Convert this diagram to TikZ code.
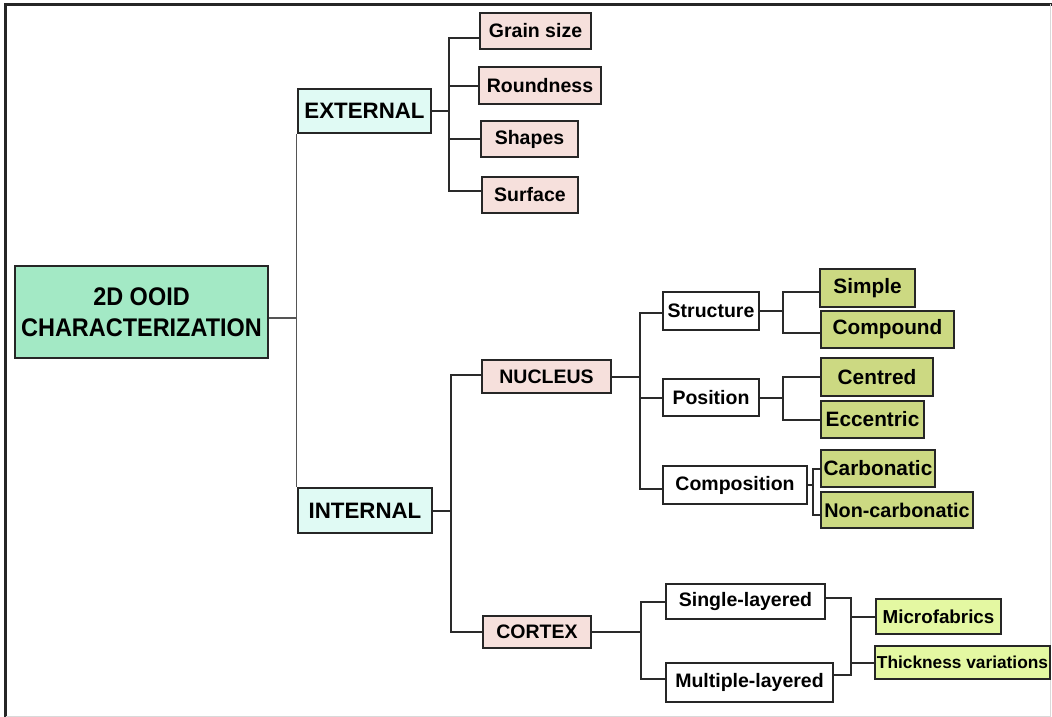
\documentclass[tikz,border=0pt]{standalone}
\usepackage{fontspec}
\setmainfont{Liberation Sans}
\newfontfamily\rootfont[FakeStretch=0.92]{Liberation Sans}
\definecolor{rootfill}{HTML}{A3E9C5}
\definecolor{cyanfill}{HTML}{E0FAF4}
\definecolor{pinkfill}{HTML}{F6E0DC}
\definecolor{olivefill}{HTML}{CCD982}
\definecolor{limefill}{HTML}{E4F8A2}
\definecolor{linegray}{HTML}{2A2A2A}
\tikzset{
  box/.style={draw=black!85, line width=2.2pt, inner sep=0pt, anchor=center, font=\bfseries\fontsize{19.5}{22}\selectfont},
  rootbox/.style={box, fill=rootfill, align=center, font=\rootfont\bfseries\fontsize{25.5}{31}\selectfont},
  topbox/.style={box, fill=cyanfill, font=\bfseries\fontsize{22.3}{25}\selectfont},
  pinkbox/.style={box, fill=pinkfill},
  whitebox/.style={box, fill=white},
  olivebox/.style={box, fill=olivefill, font=\bfseries\fontsize{20.8}{24}\selectfont},
  limebox/.style={box, fill=limefill},
  conn/.style={draw=linegray, line width=2pt},
  thinconn/.style={draw=linegray!80, line width=1.1pt}
}
\begin{document}
\begin{tikzpicture}[x=1pt, y=-1pt]
\useasboundingbox (0,0) rectangle (1052,717);
% frame
\draw[line width=2.6pt, black!85] (5.5,717) -- (5.5,4.5) -- (1052,4.5);
\draw[line width=0.8pt, black!15] (1050.5,4.5) -- (1050.5,716) -- (5.5,716);

% connectors first (under boxes)
\coordinate (bE) at (449,111);
\coordinate (bI) at (451,510.5);
\coordinate (bN) at (640,376.5);
\coordinate (bS) at (783,311);
\coordinate (bP) at (783,397.5);
\coordinate (bC) at (813,485);
\coordinate (bX) at (641,632);
\coordinate (bL) at (851,640);

% nodes
\node[rootbox, minimum width=253pt, minimum height=92pt] (root) at (141.5,312) {2D OOID\\CHARACTERIZATION};
\node[topbox, minimum width=133pt, minimum height=44pt] (ext) at (364.5,111) {EXTERNAL};
\node[topbox, minimum width=134pt, minimum height=45pt] (int) at (365,510.5) {INTERNAL};

\node[pinkbox, minimum width=111pt, minimum height=36pt] (grain) at (535.5,31) {Grain size};
\node[pinkbox, minimum width=122pt, minimum height=37pt] (round) at (540,85.5) {Roundness};
\node[pinkbox, minimum width=97pt, minimum height=36pt] (shapes) at (529.5,139) {Shapes};
\node[pinkbox, minimum width=96pt, minimum height=36pt] (surface) at (530,195) {Surface};

\node[pinkbox, minimum width=129pt, minimum height=33pt] (nucleus) at (546.5,376.5) {NUCLEUS};
\node[pinkbox, minimum width=108pt, minimum height=32pt] (cortex) at (537,632) {CORTEX};

\node[whitebox, minimum width=96pt, minimum height=38pt] (structure) at (711,311) {Structure};
\node[whitebox, minimum width=96pt, minimum height=37pt] (position) at (711,397.5) {Position};
\node[whitebox, minimum width=144pt, minimum height=38pt] (composition) at (735,485) {Composition};

\node[olivebox, minimum width=95pt, minimum height=38pt] (simple) at (867.5,288) {Simple};
\node[olivebox, minimum width=133pt, minimum height=37pt] (compound) at (887.5,329.5) {Compound};
\node[olivebox, minimum width=112pt, minimum height=38pt] (centred) at (877,377) {Centred};
\node[olivebox, minimum width=103pt, minimum height=37pt] (eccentric) at (872.5,419.5) {Eccentric};
\node[olivebox, minimum width=114pt, minimum height=37pt] (carbonatic) at (878,468.5) {Carbonatic};
\node[olivebox, minimum width=152pt, minimum height=36pt, font=\bfseries\fontsize{19.8}{23}\selectfont] (noncarb) at (897,510) {Non-carbonatic};

\node[whitebox, minimum width=159pt, minimum height=35pt] (single) at (745.5,601.5) {Single-layered};
\node[whitebox, minimum width=167pt, minimum height=39pt] (multiple) at (749.5,682.5) {Multiple-layered};

\node[limebox, minimum width=125pt, minimum height=35pt, font=\bfseries\fontsize{18.8}{22}\selectfont] (micro) at (938.5,616.5) {Microfabrics};
\node[limebox, minimum width=175pt, minimum height=33pt, font=\bfseries\fontsize{17.3}{20}\selectfont] (thick) at (962.5,662.5) {Thickness variations};

% connectors
\draw[thinconn] (ext.south west) -- (int.north west);
\draw[thinconn] ([yshift=-6pt]root.east) -- ([yshift=-6pt]root.east -| ext.west);

\draw[conn] (ext.east) -- (bE);
\draw[conn] ([yshift=-7pt]grain.west) -| (bE);
\draw[conn] (round.west) -| (bE);
\draw[conn] (shapes.west) -| (bE);
\draw[conn] ([yshift=4pt]surface.west) -| (bE);

\draw[conn] (int.east) -- (bI);
\draw[conn] ([yshift=2pt]nucleus.west) -| (bI);
\draw[conn] (cortex.west) -| (bI);

\draw[conn] (nucleus.east) -- (bN);
\draw[conn] ([yshift=-2pt]structure.west) -| (bN);
\draw[conn] (position.west) -| (bN);
\draw[conn] ([yshift=-4pt]composition.west) -| (bN);

\draw[conn] (structure.east) -- (bS);
\draw[conn] ([yshift=-4pt]simple.west) -| (bS);
\draw[conn] ([yshift=-3.5pt]compound.west) -| (bS);

\draw[conn] (position.east) -- (bP);
\draw[conn] (centred.west) -| (bP);
\draw[conn] (eccentric.west) -| (bP);

\draw[conn] (composition.east) -- (bC);
\draw[conn] (carbonatic.west) -| (bC);
\draw[conn] ([yshift=-5pt]noncarb.west) -| (bC);

\draw[conn] (cortex.east) -- (bX);
\draw[conn] (single.west) -| (bX);
\draw[conn] ([yshift=4pt]multiple.west) -| (bX);

\draw[conn] ([yshift=3.5pt]single.east) -| (bL);
\draw[conn] ([yshift=7.5pt]multiple.east) -| (bL);
\draw[conn] (micro.west) -| (bL);
\draw[conn] (thick.west) -| (bL);
\end{tikzpicture}
\end{document}
